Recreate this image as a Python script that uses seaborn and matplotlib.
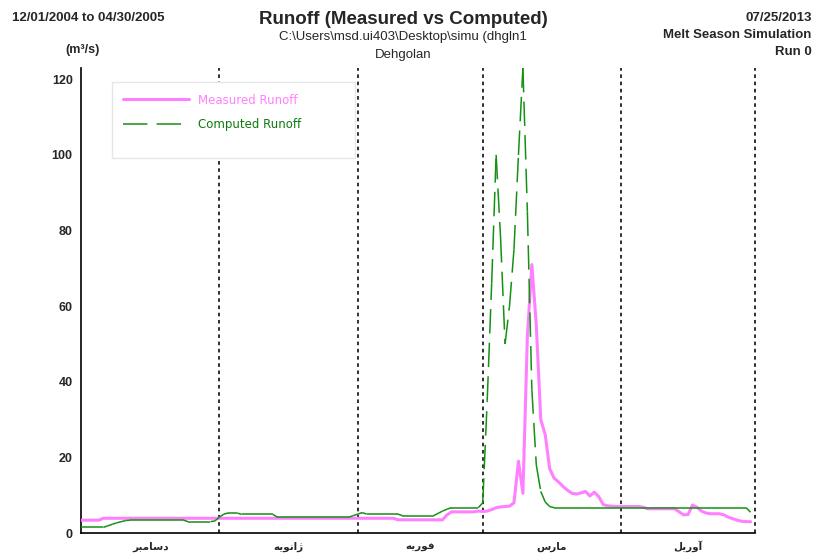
import numpy as np
import pandas as pd
import matplotlib
matplotlib.use("Agg")
import matplotlib.pyplot as plt
from matplotlib.patches import Rectangle
from matplotlib.collections import LineCollection
from matplotlib.lines import Line2D
import seaborn as sns

# daily values, day 0 = 12/01/2004
measured_dec = [3.4, 3.4, 3.4, 3.4, 3.4, 3.9, 3.9, 3.9, 3.9, 3.9, 3.9, 3.9, 3.9, 3.9, 3.9, 3.9,
                3.9, 3.9, 3.9, 3.9, 3.9, 3.9, 3.9, 3.9, 3.9, 3.9, 3.9, 3.9, 3.9, 3.9, 3.9]
measured_jan = [3.9, 3.9, 3.9, 3.9, 3.9, 3.9, 3.9, 3.9, 3.9, 3.9, 3.9, 3.9, 3.9, 3.9, 3.9, 3.9,
                3.9, 3.9, 3.9, 3.9, 3.9, 3.9, 3.9, 3.9, 3.9, 3.9, 3.9, 3.9, 3.9, 3.9, 3.9]
measured_feb = [3.9, 3.9, 3.9, 3.9, 3.9, 3.9, 3.9, 3.9, 3.9, 3.5, 3.5, 3.5, 3.5, 3.5, 3.5, 3.5,
                3.5, 3.5, 3.5, 3.5, 4.8, 5.6, 5.6, 5.6, 5.6, 5.6, 5.6, 5.8]
measured_mar = [5.7, 5.8, 6.2, 6.7, 6.9, 7.0, 7.1, 8.0, 19.0, 10.5, 52.0, 71.0, 55.0, 30.0, 26.0, 17.0,
                14.5, 13.5, 12.3, 11.3, 10.5, 10.3, 10.6, 11.0, 9.8, 10.8, 9.6, 7.5, 7.2, 7.1, 7.0]
measured_apr = [7.0, 7.0, 7.0, 7.0, 7.0, 6.8, 6.4, 6.4, 6.4, 6.4, 6.4, 6.4, 6.4, 5.6, 4.8,
                4.9, 7.4, 6.8, 5.8, 5.3, 5.1, 5.1, 5.1, 4.8, 4.2, 3.8, 3.4, 3.1, 3.0, 3.0]

computed_dec = [1.5, 1.5, 1.5, 1.5, 1.5, 1.5, 1.9, 2.3, 2.7, 3.0, 3.3, 3.4, 3.4, 3.4, 3.4, 3.4,
                3.4, 3.4, 3.4, 3.4, 3.4, 3.4, 3.4, 3.4, 3.0, 3.0, 3.0, 3.0, 3.0, 3.0, 3.2]
computed_jan = [4.2, 5.0, 5.3, 5.3, 5.3, 4.9, 4.9, 4.9, 4.9, 4.9, 4.9, 4.9, 4.9, 4.2, 4.2, 4.2,
                4.2, 4.2, 4.2, 4.2, 4.2, 4.2, 4.2, 4.2, 4.2, 4.2, 4.2, 4.2, 4.2, 4.2, 4.6]
computed_feb = [5.0, 5.4, 5.0, 5.0, 5.0, 5.0, 5.0, 5.0, 5.0, 5.0, 4.6, 4.6, 4.6, 4.6, 4.6, 4.6,
                4.6, 4.6, 5.2, 5.8, 6.3, 6.7, 6.7, 6.7, 6.7, 6.7, 6.7, 6.7]
computed_mar = [8.0, 35.0, 66.0, 100.0, 78.0, 50.0, 60.0, 75.0, 100.0, 123.0, 85.0, 38.0, 18.0, 11.0, 8.2, 7.0,
                6.7, 6.7, 6.7, 6.7, 6.7, 6.7, 6.7, 6.7, 6.7, 6.7, 6.7, 6.7, 6.7, 6.7, 6.7]
computed_apr = [6.7, 6.7, 6.7, 6.7, 6.7, 6.7, 6.7, 6.7, 6.7, 6.7, 6.7, 6.7, 6.7, 6.7, 6.7,
                6.7, 6.7, 6.7, 6.7, 6.7, 6.7, 6.7, 6.7, 6.7, 6.7, 6.7, 6.7, 6.7, 6.7, 5.5]

# month boundaries (days from 12/01) and Persian month names (shaped, visual order)
month_edges = [0, 31, 62, 90, 121, 151]
month_names = [
    "\uFEAE\uFE92\uFEE3\uFE8E\uFEB3\uFEA9",   # دسامبر
    "\uFEEA\uFBFE\uFEEE\uFEE7\uFE8D\uFB8A",   # ژانویه
    "\uFEEA\uFBFE\uFEAD\uFEEE\uFED3",         # فوریه
    "\uFEB1\uFEAD\uFE8E\uFEE3",               # مارس
    "\uFEDE\uFBFE\uFEAD\uFEED\uFE81",         # آوریل
]

measured = measured_dec + measured_jan + measured_feb + measured_mar + measured_apr
computed = computed_dec + computed_jan + computed_feb + computed_mar + computed_apr
df = pd.DataFrame({"day": np.arange(len(measured)), "measured": measured, "computed": computed})

PINK = "#ff80ff"
GREEN = "#139113"
green_dash = (0, (16, 6))

sns.set_style("white")
plt.rcParams['font.family'] = ['Liberation Sans', 'DejaVu Sans']

fig = plt.figure(figsize=(8.15, 5.55), dpi=100)
ax = fig.add_axes([0.0994, 0.0396, 0.827, 0.838])

for b in month_edges[1:]:
    ax.axvline(b, color="#202020", ls=(0, (2, 2)), lw=1.3, zorder=1, clip_on=False)

sns.lineplot(data=df, x="day", y="measured", ax=ax, color=PINK, lw=2.2,
             zorder=3, legend=False)

# computed: one dashed stroke per daily segment (dash restarts each day, like the original)
pts = df[["day", "computed"]].to_numpy()
segs = np.stack([pts[:-1], pts[1:]], axis=1)
ax.add_collection(LineCollection(segs, colors=GREEN, linewidths=1.1,
                                 linestyles=[green_dash], zorder=4))

ax.set_xlim(0, 151)
ax.set_ylim(0, 123)
ax.set_xlabel("")
ax.set_ylabel("")
for s in ["top", "right"]:
    ax.spines[s].set_visible(False)
for s in ["left", "bottom"]:
    ax.spines[s].set_color("black")
    ax.spines[s].set_linewidth(1.2)

ax.set_yticks([0, 20, 40, 60, 80, 100, 120])
ax.tick_params(axis="y", direction="out", length=4, width=1, color="#8a8a20",
               labelsize=9, pad=2)
for t in ax.get_yticklabels():
    t.set_fontweight("bold")

ax.set_xticks(month_edges[1:])
ax.set_xticklabels([])
ax.tick_params(axis="x", which="major", direction="inout", length=7, width=1, color="black")
centers = [(month_edges[i] + month_edges[i + 1]) / 2 for i in range(5)]
ax.set_xticks(centers, minor=True)
ax.set_xticklabels(month_names, minor=True, family=["DejaVu Sans"], fontsize=7.5,
                   fontweight="bold", va="baseline")
ax.tick_params(axis="x", which="minor", length=0, pad=12)

# legend box
ax.add_patch(Rectangle((0.046, 0.806), 0.36, 0.164, transform=ax.transAxes,
                       facecolor="white", edgecolor="#e6e6e6", lw=1, zorder=5))
handles = [Line2D([], [], color=PINK, lw=2.2),
           Line2D([], [], color=GREEN, lw=1.1, ls=green_dash)]
leg = ax.legend(handles, ["Measured Runoff", "Computed Runoff"],
                loc="upper left", bbox_to_anchor=(0.062, 0.945), frameon=False,
                borderpad=0, borderaxespad=0, handlelength=5.6, handletextpad=0.8,
                labelspacing=0.95, prop={"family": "DejaVu Sans", "size": 8.5})
leg.set_zorder(6)
for txt, col in zip(leg.get_texts(), [PINK, "#0c7a0c"]):
    txt.set_color(col)

# header texts
fig.text(0.015, 0.968, "12/01/2004 to 04/30/2005", fontsize=9.5, fontweight="bold", va="center")
fig.text(0.495, 0.965, "Runoff (Measured vs Computed)", fontsize=13.5, fontweight="bold",
         ha="center", va="center")
fig.text(0.495, 0.933, "C:\\Users\\msd.ui403\\Desktop\\simu (dhgln1", fontsize=9.5,
         ha="center", va="center")
fig.text(0.495, 0.901, "Dehgolan", fontsize=9.5, ha="center", va="center")
fig.text(0.996, 0.968, "07/25/2013", fontsize=9.5, fontweight="bold", ha="right", va="center")
fig.text(0.996, 0.937, "Melt Season Simulation", fontsize=9.5, fontweight="bold",
         ha="right", va="center")
fig.text(0.996, 0.907, "Run 0", fontsize=9.5, fontweight="bold", ha="right", va="center")
fig.text(0.101, 0.910, "(m\u00b3/s)", fontsize=9, fontweight="bold", ha="center", va="center")

fig.savefig("out.png", dpi=100, facecolor="white")
